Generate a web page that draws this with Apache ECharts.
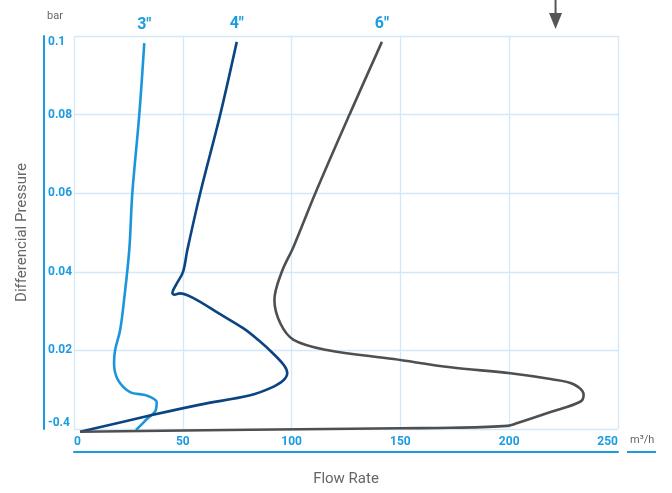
<!DOCTYPE html>
<html>
<head>
<meta charset="utf-8">
<script src="https://cdn.jsdelivr.net/npm/echarts@6/dist/echarts.min.js"></script>
<style>
html,body{margin:0;padding:0;background:#fff;}
#chart{width:672px;height:493px;}
</style>
</head>
<body>
<div id="chart"></div>
<script>
// ---- data ----
var xTicks = [0, 50, 100, 150, 200, 250];
var yTickLabels = ['-0.4', '0.02', '0.04', '0.06', '0.08', '0.1'];
var seriesNames = ['3"', '4"', '6"'];
// [flow m3/h, differential pressure bar]
var s3 = [[32.3,0.0982],[30.0,0.080],[26.8,0.060],[25.4,0.0456],[23.0,0.0328],[21.2,0.0252],[18.9,0.0201],[18.4,0.0168],[20.2,0.0125],[25.8,0.0094],[33.6,0.0085],[38.0,0.0068],[37.3,0.0045],[34.0,0.0028],[30.4,0.0008],[28.5,-0.0002]];
var s4 = [[74.8,0.0985],[67.2,0.080],[58.0,0.060],[52.1,0.0456],[50.1,0.040],[47.0,0.0368],[45.2,0.0346],[46.2,0.0342],[48.6,0.0345],[54.9,0.0333],[66.0,0.0296],[77.9,0.0256],[85.0,0.0225],[91.5,0.0192],[96.5,0.0162],[98.0,0.0142],[96.0,0.0123],[90.2,0.0104],[81.0,0.0086],[58.0,0.0062],[36.3,0.0036],[2.8,-0.0007]];
var s6 = [[141.5,0.0985],[126.6,0.080],[110.9,0.060],[100.9,0.0464],[95.5,0.040],[92.1,0.0328],[94.8,0.0269],[100.9,0.0227],[116.2,0.0201],[146.9,0.0178],[173.0,0.0157],[200.6,0.0142],[219.0,0.0127],[229.6,0.0114],[234.2,0.0088],[232.8,0.0070],[219.0,0.0043],[203.8,0.0015],[199.2,0.0008],[173.0,0.0003],[150.0,0.0002],[81.0,-0.0002],[2.8,-0.0007]];
var arrowX = 221.3;

var blue = '#1b9be0';
var colors = ['#1b96dc', '#0b4482', '#4f4f50'];
var gridColor = '#d3e8f8';
var grayText = '#666666';
var font = 'Roboto';

function mk(name, data, color) {
  return {
    name: name, type: 'line', data: data, smooth: 0.35, showSymbol: false, symbol: 'none',
    clip: false, lineStyle: { color: color, width: 2.6 }, itemStyle: { color: color },
    emphasis: { disabled: true },
    markPoint: {
      symbol: 'circle', symbolSize: 0, silent: true, animation: false,
      label: { show: true, formatter: name, position: 'top', distance: 10,
        color: blue, fontSize: 16, fontWeight: 'bold', fontFamily: font },
      data: [{ coord: data[0] }]
    }
  };
}

var chart = echarts.init(document.getElementById('chart'));
chart.setOption({
  animation: false,
  backgroundColor: '#fff',
  grid: { left: 74, right: 54, top: 36, bottom: 64 },
  xAxis: {
    type: 'value', min: xTicks[0], max: xTicks[xTicks.length - 1], interval: 50,
    offset: 23,
    axisLine: { show: true, onZero: false, lineStyle: { color: blue, width: 2 } },
    axisTick: { show: false },
    axisLabel: { inside: true, margin: 4, color: blue, fontSize: 12, fontWeight: 'bold', fontFamily: font,
      alignMinLabel: 'left', alignMaxLabel: 'right' },
    splitLine: { show: true, lineStyle: { color: gridColor, width: 1.3 } },
    name: 'Flow Rate', nameLocation: 'middle', nameGap: 20,
    nameTextStyle: { color: grayText, fontSize: 15, fontFamily: font }
  },
  yAxis: {
    type: 'value', min: 0, max: 0.1, interval: 0.02,
    offset: 30,
    axisLine: { show: true, onZero: false, lineStyle: { color: blue, width: 2 } },
    axisTick: { show: false },
    axisLabel: { inside: true, margin: 4, color: blue, fontSize: 12, fontWeight: 'bold', fontFamily: font,
      verticalAlignMinLabel: 'bottom', verticalAlignMaxLabel: 'top',
      formatter: function (v, i) { return yTickLabels[i]; } },
    splitLine: { show: true, lineStyle: { color: gridColor, width: 1.3 } },
    name: 'Differencial Pressure', nameLocation: 'middle', nameGap: 14,
    nameTextStyle: { color: grayText, fontSize: 15, fontFamily: font }
  },
  series: [mk(seriesNames[0], s3, colors[0]), mk(seriesNames[1], s4, colors[1]), mk(seriesNames[2], s6, colors[2])]
});

var ax = chart.convertToPixel({ xAxisIndex: 0 }, arrowX);
var right = chart.convertToPixel({ xAxisIndex: 0 }, xTicks[xTicks.length - 1]);
chart.setOption({
  graphic: [
    { type: 'text', left: 47, top: 11, style: { text: 'bar', fill: grayText, fontSize: 11, fontFamily: font } },
    { type: 'text', left: right + 12, top: 435, style: { text: 'm³/h', fill: grayText, fontSize: 11, fontFamily: font } },
    { type: 'line', shape: { x1: right + 9, y1: 452, x2: right + 38, y2: 452 }, style: { stroke: blue, lineWidth: 2 } },
    { type: 'line', shape: { x1: ax, y1: 0, x2: ax, y2: 15 }, style: { stroke: '#555', lineWidth: 2 } },
    { type: 'polygon', shape: { points: [[ax - 6.5, 13], [ax + 6.5, 13], [ax, 29]] }, style: { fill: '#555' } }
  ]
});
</script>
</body>
</html>
